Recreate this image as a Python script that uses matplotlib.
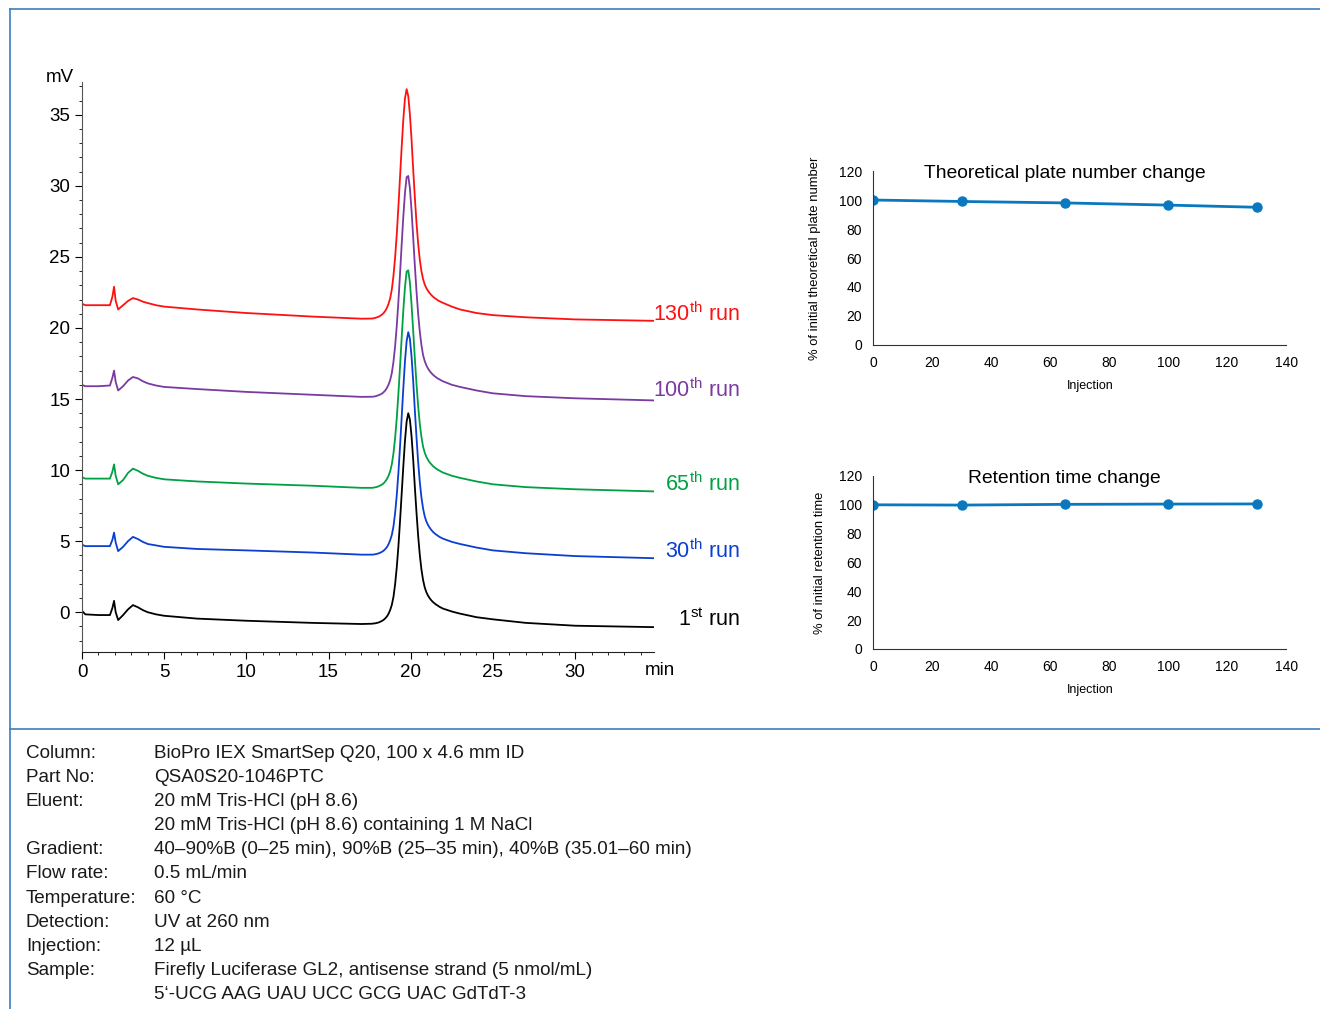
import matplotlib
matplotlib.use("Agg")
import matplotlib.pyplot as plt
from matplotlib.ticker import MultipleLocator

plt.rcParams['font.family'] = ['Liberation Sans', 'DejaVu Sans']
plt.rcParams['mathtext.fontset'] = 'custom'
plt.rcParams['mathtext.rm'] = 'Liberation Sans'

# chromatogram: time (min) and signal (mV) per run
t = [0, 0.2, 1.0, 1.7, 1.85, 1.95, 2.05, 2.2, 2.5, 2.8, 3.1, 3.4, 3.7, 4.0, 4.5, 5.0, 7.0, 10.0, 14.0, 17.0,
     17.65, 17.75, 17.85, 17.95, 18.05, 18.15, 18.25, 18.35, 18.45, 18.55, 18.65, 18.75, 18.85, 18.95, 19.05,
     19.15, 19.25, 19.35, 19.45, 19.55, 19.65, 19.75, 19.85, 19.95, 20.05, 20.15, 20.25, 20.35, 20.45, 20.55,
     20.65, 20.75, 20.85, 20.95, 21.05, 21.15, 21.25, 21.35, 21.45, 21.55, 21.65, 21.75, 21.85, 21.95,
     22.5, 23.0, 24.0, 25.0, 27.0, 30.0, 34.8]

run1 = [0.1, -0.15, -0.2, -0.2, 0.3, 0.8, 0.0, -0.55, -0.2, 0.2, 0.5, 0.35, 0.15, 0.0, -0.15, -0.25, -0.45, -0.6, -0.75, -0.83,
        -0.81, -0.79, -0.78, -0.75, -0.72, -0.67, -0.61, -0.54, -0.43, -0.30, -0.11, 0.16, 0.52, 1.08, 1.97,
        3.16, 4.64, 6.43, 8.36, 10.29, 12.07, 13.41, 14.0, 13.55, 12.37, 10.73, 8.80, 7.02, 5.39, 4.05,
        3.01, 2.27, 1.75, 1.41, 1.17, 0.99, 0.84, 0.72, 0.62, 0.53, 0.46, 0.38, 0.32, 0.26,
        0.05, -0.1, -0.35, -0.5, -0.75, -0.95, -1.05]
run30 = [4.75, 4.65, 4.65, 4.65, 5.1, 5.6, 4.9, 4.3, 4.6, 5.0, 5.3, 5.15, 4.95, 4.8, 4.7, 4.6, 4.45, 4.35, 4.2, 4.05,
         4.05, 4.06, 4.08, 4.11, 4.14, 4.19, 4.25, 4.33, 4.44, 4.58, 4.79, 5.07, 5.44, 6.04, 6.98,
         8.24, 9.81, 11.69, 13.73, 15.78, 17.66, 19.07, 19.70, 19.23, 17.97, 16.25, 14.21, 12.32, 10.59, 9.18,
         8.08, 7.30, 6.75, 6.39, 6.14, 5.95, 5.79, 5.66, 5.55, 5.46, 5.38, 5.30, 5.24, 5.18,
         4.95, 4.8, 4.55, 4.35, 4.15, 3.95, 3.8]
run65 = [9.5, 9.4, 9.4, 9.4, 9.9, 10.4, 9.6, 9.0, 9.3, 9.8, 10.1, 9.95, 9.75, 9.6, 9.45, 9.35, 9.2, 9.05, 8.9, 8.75,
         8.75, 8.77, 8.79, 8.82, 8.86, 8.92, 8.98, 9.07, 9.20, 9.37, 9.60, 9.92, 10.41, 11.18, 12.27,
         13.66, 15.37, 17.30, 19.32, 21.26, 22.88, 23.97, 24.05, 23.19, 21.64, 19.78, 17.85, 16.06, 14.51, 13.27,
         12.34, 11.65, 11.23, 10.93, 10.72, 10.54, 10.41, 10.28, 10.19, 10.10, 10.02, 9.96, 9.89, 9.83,
         9.6, 9.45, 9.2, 9.0, 8.8, 8.65, 8.5]
run100 = [16.0, 15.9, 15.9, 15.95, 16.5, 17.0, 16.2, 15.6, 15.9, 16.3, 16.55, 16.45, 16.25, 16.1, 15.95, 15.85, 15.7, 15.5, 15.3, 15.15,
          15.16, 15.17, 15.19, 15.23, 15.27, 15.32, 15.38, 15.48, 15.60, 15.78, 16.01, 16.34, 16.83, 17.62, 18.72,
          20.14, 21.87, 23.84, 25.89, 27.86, 29.51, 30.61, 30.69, 29.83, 28.25, 26.36, 24.39, 22.58, 21.01, 19.75,
          18.80, 18.09, 17.67, 17.37, 17.15, 16.97, 16.83, 16.71, 16.61, 16.52, 16.44, 16.38, 16.31, 16.25,
          16.0, 15.85, 15.6, 15.4, 15.2, 15.05, 14.9]
run130 = [21.7, 21.6, 21.6, 21.6, 22.2, 22.9, 21.9, 21.3, 21.6, 21.9, 22.1, 22.0, 21.85, 21.75, 21.6, 21.5, 21.3, 21.05, 20.8, 20.65,
          20.66, 20.68, 20.71, 20.75, 20.79, 20.86, 20.94, 21.05, 21.20, 21.41, 21.70, 22.09, 22.71, 23.68, 24.97,
          26.59, 28.54, 30.64, 32.75, 34.69, 36.15, 36.80, 36.31, 35.02, 33.24, 31.13, 29.19, 27.40, 25.95, 24.81,
          24.00, 23.44, 23.06, 22.80, 22.61, 22.45, 22.32, 22.20, 22.11, 22.03, 21.94, 21.88, 21.82, 21.77,
          21.5, 21.3, 21.05, 20.9, 20.75, 20.6, 20.5]

runs = [run1, run30, run65, run100, run130]
run_colors = ['black', '#0a3fd0', '#00a044', '#7a3aa0', '#ff1010']
run_labels = ['1$^{\\mathrm{st}}$ run', '30$^{\\mathrm{th}}$ run', '65$^{\\mathrm{th}}$ run',
              '100$^{\\mathrm{th}}$ run', '130$^{\\mathrm{th}}$ run']
label_y = [-0.55, 4.3, 9.0, 15.6, 21.0]

# stability plots
injection = [0, 30, 65, 100, 130]
plate_pct = [100, 99, 98, 96.5, 95]
rt_pct = [100, 99.8, 100.3, 100.5, 100.6]

fig = plt.figure(figsize=(13.2, 10.09), dpi=100)

# blue frame lines
frame = '#3a80c0'
fig.add_artist(plt.Line2D([0.0076, 1.0], [0.991, 0.991], color=frame, lw=1.2))
fig.add_artist(plt.Line2D([0.0076, 0.0076], [0.0, 0.991], color=frame, lw=1.2))
fig.add_artist(plt.Line2D([0.0076, 1.0], [0.2775, 0.2775], color=frame, lw=1.2))

# chromatogram
ax = fig.add_axes([82 / 1320, 0.3538, 572 / 1320, 0.5649])
for y, c in zip(runs, run_colors):
    ax.plot(t, y, color=c, lw=1.3)
ax.set_xlim(0, 34.8)
ax.set_ylim(-2.8, 37.3)
for s in ['top', 'right']:
    ax.spines[s].set_visible(False)
ax.spines['left'].set_color('#555555')
ax.spines['bottom'].set_color('#222222')
ax.set_xticks(range(0, 31, 5))
ax.xaxis.set_minor_locator(MultipleLocator(1))
ax.set_yticks(range(0, 36, 5))
ax.yaxis.set_minor_locator(MultipleLocator(1))
ax.tick_params(axis='both', which='major', labelsize=13.5, length=5, width=0.8)
ax.tick_params(axis='both', which='minor', length=2.5, width=0.6)
for y, c, lab in zip(label_y, run_colors, run_labels):
    ax.text(40.05, y, lab, color=c, fontsize=15.5, ha='right', va='center', clip_on=False)
ax.text(-0.5, 37.6, 'mV', fontsize=13.5, ha='right', va='center')
ax.text(34.25, -3.5, 'min', fontsize=13.5, ha='left', va='top')


def small_plot(rect, yvals, title, ylabel, ypad):
    a = fig.add_axes(rect)
    a.plot(injection, yvals, color='#0a78be', lw=2, marker='o', markersize=6.5)
    a.set_xlim(0, 140)
    a.set_ylim(0, 120)
    a.set_xticks(range(0, 141, 20))
    a.set_yticks(range(0, 121, 20))
    for s in ['top', 'right']:
        a.spines[s].set_visible(False)
    a.spines['left'].set_color('#333333')
    a.spines['bottom'].set_color('#333333')
    a.tick_params(length=0, labelsize=10, pad=8)
    a.set_xlabel('Injection', fontsize=9, labelpad=7)
    a.xaxis.set_label_coords(0.525, -0.2)
    a.set_ylabel(ylabel, fontsize=9.4, labelpad=ypad)
    a.text(65, 118, title, fontsize=13.9, ha='center', va='center')
    return a


small_plot([0.6614, 0.6581, 0.3129, 0.1724], plate_pct,
           'Theoretical plate number change', '% of initial theoretical plate number', 12.5)
small_plot([0.6614, 0.3568, 0.3129, 0.1715], rt_pct,
           'Retention time change', '% of initial retention time', 9.2)

# conditions table
cond_keys = ['Column:', 'Part No:', 'Eluent:', '', 'Gradient:', 'Flow rate:', 'Temperature:',
             'Detection:', 'Injection:', 'Sample:', '']
cond_vals = ['BioPro IEX SmartSep Q20, 100 x 4.6 mm ID',
             'QSA0S20-1046PTC',
             '20 mM Tris-HCl (pH 8.6)',
             '20 mM Tris-HCl (pH 8.6) containing 1 M NaCl',
             '40\u201390%B (0\u201325 min), 90%B (25\u201335 min), 40%B (35.01\u201360 min)',
             '0.5 mL/min',
             '60 \u00b0C',
             'UV at 260 nm',
             '12 \u00b5L',
             'Firefly Luciferase GL2, antisense strand (5 nmol/mL)',
             '5\u2018-UCG AAG UAU UCC GCG UAC GdTdT-3']
for i, (k, v) in enumerate(zip(cond_keys, cond_vals)):
    yy = 1 - (753.5 + i * 24.1) / 1009
    fig.text(26 / 1320, yy, k, fontsize=13.6, va='center', color='#1a1a1a')
    fig.text(154 / 1320, yy, v, fontsize=13.6, va='center', color='#1a1a1a')

fig.savefig('out.png', dpi=100)
